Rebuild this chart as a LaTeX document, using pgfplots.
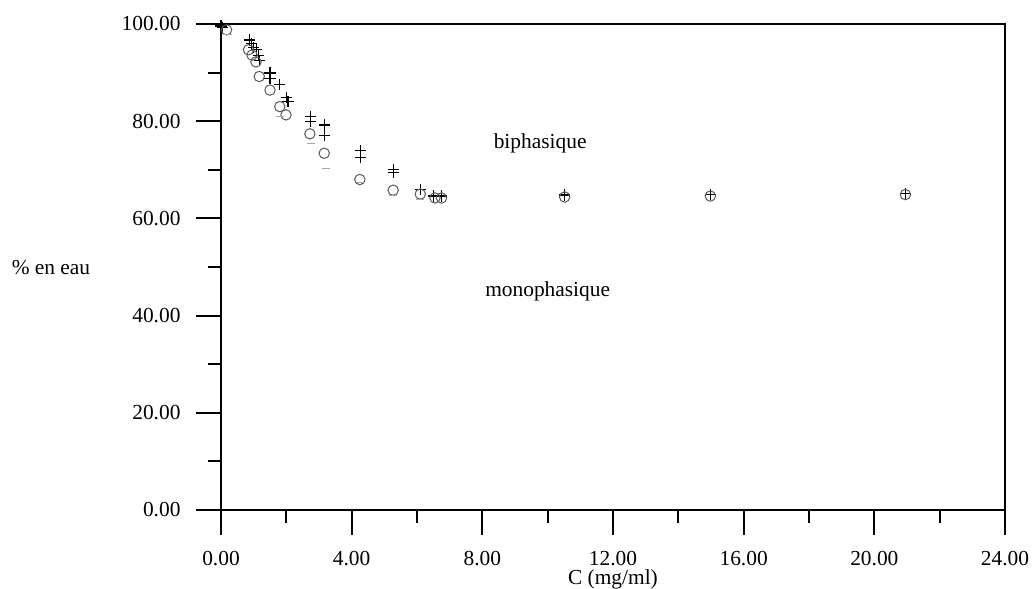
\documentclass[border=0pt]{standalone}
\usepackage{fontspec}
\setmainfont{Liberation Serif}
\usepackage{pgfplots}
\pgfplotsset{compat=1.18}
\begin{document}
\fontsize{10.7}{12.5}\selectfont
\begin{tikzpicture}
\useasboundingbox (-110.5pt,-39.5pt) rectangle (407pt,255pt);
\begin{axis}[
  at={(0,0)}, anchor=south west,
  scale only axis, width=392pt, height=243pt,
  xmin=0, xmax=24, ymin=0, ymax=100,
  xtick={0,4,...,24}, ytick={0,20,...,100},
  minor x tick num=1, minor y tick num=1,
  xtick pos=bottom, ytick pos=left,
  tick align=outside,
  major tick length=12.5pt, minor tick length=6.5pt,
  axis line style={line width=1.3pt},
  every tick/.style={black, line width=1pt},
  /pgf/number format/.cd, fixed, fixed zerofill, precision=2, assume math mode=true,
  /pgfplots/.cd,
  xticklabel shift=4.5pt, yticklabel shift=4pt,
  xlabel={C (mg/ml)},
  xlabel style={at={(axis description cs:0.5,0)}, anchor=center, yshift=-34.5pt},
  ylabel={\% en eau},
  ylabel style={at={(axis description cs:0,0.498)}, anchor=center, rotate=-90, xshift=-85pt},
  clip=false,
]
% crosses
\addplot[only marks, mark=+, mark size=2.8pt, black, mark options={line width=0.6pt}] coordinates {
(0.0,99.6) (0.05,99.3) (0.87,96.7) (0.94,96.0) (1.0,95.2) (1.09,94.7) (1.14,93.6) (1.19,92.5)
(1.5,89.9) (1.5,88.8) (1.8,87.6) (2.0,84.9) (2.05,84.0) (2.75,80.9) (2.75,80.0) (3.18,79.2)
(3.18,77.0) (4.27,74.0) (4.27,72.6) (5.27,70.0) (5.27,69.4) (6.1,66.0) (6.5,64.6) (6.75,64.6)
(10.52,64.8) (14.98,64.9) (20.95,65.2)
};
% circles
\addplot[only marks, mark=o, mark size=2.6pt, black!65, mark options={line width=0.5pt}] coordinates {
(0.17,98.8) (0.84,94.7) (0.95,93.6) (1.07,92.2) (1.17,89.2) (1.5,86.4) (1.8,83.0) (1.99,81.3)
(2.72,77.4) (3.16,73.4) (4.25,68.0) (5.27,65.8) (6.1,65.0) (6.55,64.2) (6.75,64.2)
(10.52,64.4) (14.98,64.6) (20.95,64.9)
};
% faint marks
\addplot[only marks, mark=-, mark size=2pt, black!35, mark options={line width=0.4pt}] coordinates {
(0.2,97.8) (1.8,81.0) (2.75,75.5) (3.2,70.3) (4.25,67.5) (5.27,64.8) (6.1,64.0)
};
\node at (axis cs:9.77,75.5) {biphasique};
\node at (axis cs:10.0,44.9) {monophasique};
\end{axis}
\end{tikzpicture}
\end{document}
